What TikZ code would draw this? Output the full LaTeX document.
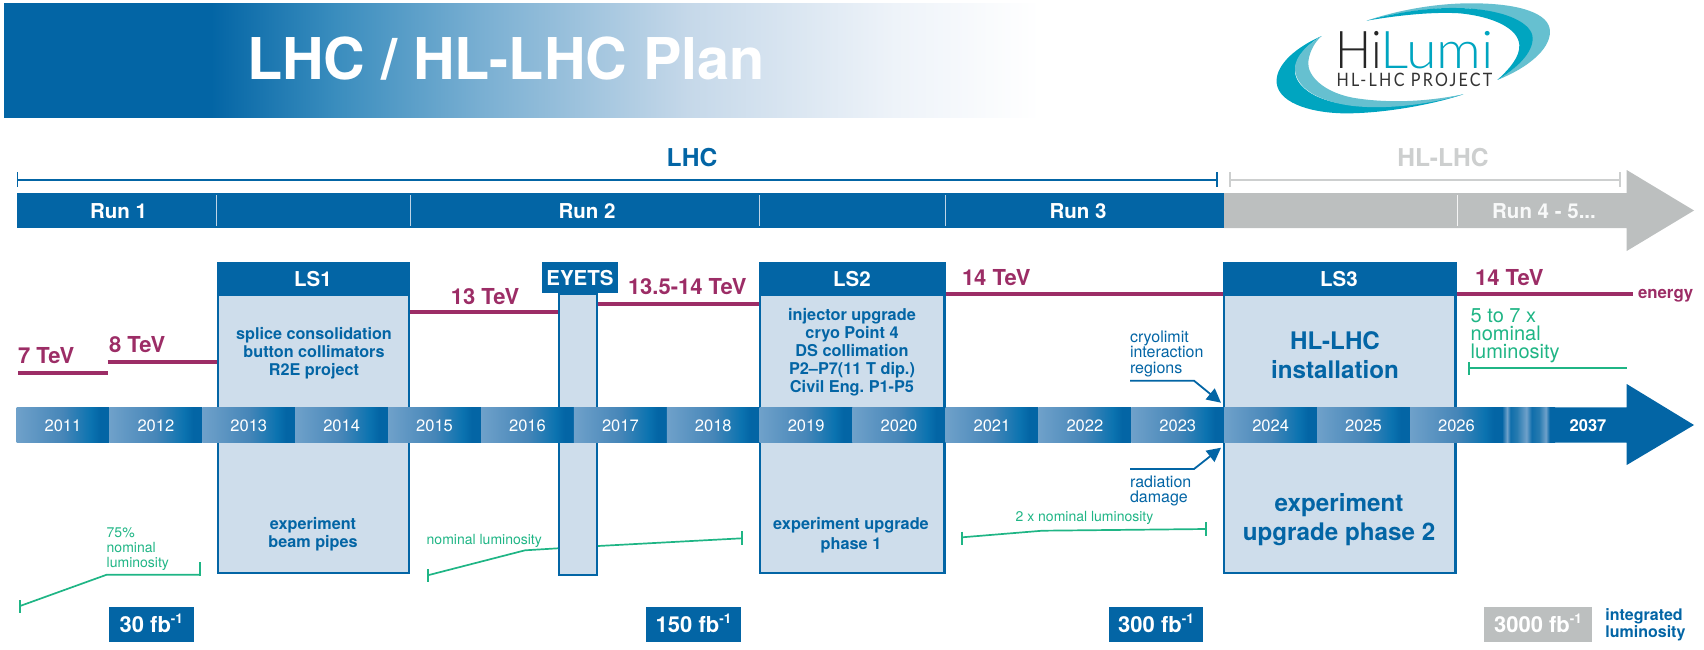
\documentclass[tikz,border=0pt]{standalone}
\usepackage{fontspec}
\usepackage{graphicx}
\setmainfont{TeX Gyre Heros}
\newfontfamily\logofont{Lato Light}
\newfontfamily\logosub[LetterSpace=14]{Lato}
\usetikzlibrary{arrows.meta}
\frenchspacing
\definecolor{lhcblue}{RGB}{3,101,165}
\definecolor{boxfill}{RGB}{206,221,235}
\definecolor{lhcgrey}{RGB}{188,191,191}
\definecolor{bracketgrey}{RGB}{205,207,207}
\definecolor{energy}{RGB}{156,45,102}
\definecolor{lumi}{RGB}{31,181,133}
\definecolor{teal}{RGB}{0,165,192}
\definecolor{teallight}{RGB}{102,192,208}
\definecolor{seplight}{RGB}{190,212,230}
\pgfdeclarehorizontalshading{headshade}{100bp}{
  rgb(0bp)=(0.012,0.396,0.647);
  rgb(25bp)=(0.012,0.396,0.647);
  rgb(35bp)=(0.012,0.396,0.647);
  rgb(41bp)=(0.227,0.553,0.745);
  rgb(48bp)=(0.475,0.686,0.824);
  rgb(58bp)=(0.773,0.847,0.914);
  rgb(68bp)=(0.933,0.953,0.976);
  rgb(75bp)=(1,1,1);
  rgb(100bp)=(1,1,1)}
\pgfdeclarehorizontalshading{yearshade}{100bp}{
  rgb(0bp)=(0.435,0.631,0.792);
  rgb(25bp)=(0.435,0.631,0.792);
  rgb(50bp)=(0.275,0.525,0.722);
  rgb(65bp)=(0.043,0.451,0.690);
  rgb(70bp)=(0.012,0.396,0.647);
  rgb(100bp)=(0.012,0.396,0.647)}
\pgfdeclarehorizontalshading{gapshade}{100bp}{
  rgb(0bp)=(0.012,0.396,0.647);
  rgb(25bp)=(0.012,0.396,0.647);
  rgb(29.8bp)=(0.435,0.631,0.792);
  rgb(33bp)=(0.06,0.43,0.67);
  rgb(39bp)=(0.15,0.48,0.69);
  rgb(48bp)=(0.435,0.631,0.792);
  rgb(53bp)=(0.06,0.43,0.67);
  rgb(60bp)=(0.15,0.48,0.69);
  rgb(66.3bp)=(0.435,0.631,0.792);
  rgb(70bp)=(0.012,0.396,0.647);
  rgb(100bp)=(0.012,0.396,0.647)}
\tikzset{
  txt/.style={inner sep=0pt,outer sep=0pt,anchor=base},
  txtw/.style={txt,anchor=base west,align=left},
  sized/.style 2 args={font=\fontsize{#1}{#2}\selectfont},
  sizedb/.style 2 args={font=\fontsize{#1}{#2}\selectfont\bfseries},
  whitebold/.style={txt,text=white,sizedb={20.5}{24}},
  bluebox/.style={text=lhcblue,txt,align=center,sizedb={16.2}{18}},
  bigbox/.style={text=lhcblue,txt,align=center,sizedb={24.2}{29}},
  tev/.style={txt,text=energy,sizedb={22}{24}},
  enline/.style={draw=energy,line width=4.2pt},
  lumline/.style={draw=lumi,line width=1.7pt},
  lumtxt/.style={txtw,text=lumi,sized={14}{14.7}},
  body/.style={fill=boxfill,draw=lhcblue,line width=2.4pt},
  head/.style={fill=lhcblue},
  year/.style={txt,text=white,sized={16.5}{18}},
  yearseg/.style={shading=yearshade,shading angle=0},
  note/.style={txtw,text=lhcblue,sized={16}{15.5}},
  pointer/.style={draw=lhcblue,line width=1.8pt,-{Triangle[length=14pt,width=14pt]}},
  lumbox/.style={fill=lhcblue},
  lumval/.style={txt,text=white,sizedb={22}{24}},
}
\newcommand{\invfb}[1]{#1 fb\raisebox{.42em}{\fontsize{13.5}{14}\selectfont -1}}
\begin{document}
\begin{tikzpicture}[x=1pt,y=-1pt]
\useasboundingbox (0,0) rectangle (1704,649);
% header
\shade[shading=headshade] (4,3.5) rectangle (1040,117);
\node[txt,text=white,sizedb={57.6}{60},anchor=base west] (title) at (247,79) {LHC / HL-LHC Plan};
% logo
\begin{scope}[shift={(1260,0)},x=.3333pt,y=-.3333pt]
  \fill[teal] (185,108) .. controls (90,150) and (45,205) .. (50,250) .. controls (58,315) and (170,342) .. (270,340) .. controls (390,338) and (530,310) .. (610,283) .. controls (470,315) and (340,325) .. (240,310) .. controls (150,295) and (100,250) .. (105,205) .. controls (108,170) and (145,130) .. (185,108) -- cycle;
  \fill[teallight] (185,108) .. controls (140,135) and (105,170) .. (105,205) .. controls (105,260) and (170,305) .. (280,318) .. controls (390,330) and (520,310) .. (610,283) .. controls (500,305) and (390,310) .. (290,295) .. controls (190,280) and (140,225) .. (145,185) .. controls (148,155) and (165,125) .. (185,108) -- cycle;
  \fill[teallight] (320,62) .. controls (430,25) and (550,8) .. (650,10) .. controls (780,12) and (870,40) .. (870,95) .. controls (870,150) and (800,205) .. (712,240) .. controls (770,205) and (815,160) .. (815,115) .. controls (815,70) and (740,35) .. (620,25) .. controls (530,20) and (420,35) .. (320,62) -- cycle;
  \fill[teal] (320,62) .. controls (430,32) and (530,20) .. (620,25) .. controls (740,32) and (818,70) .. (818,115) .. controls (818,160) and (770,205) .. (712,240) .. controls (750,205) and (780,170) .. (778,135) .. controls (775,85) and (700,50) .. (600,40) .. controls (520,35) and (420,45) .. (320,62) -- cycle;
\end{scope}
\node[txtw,text=black!85] (logohi) at (1335.5,68.3) {\logofont\fontsize{52}{52}\selectfont\scalebox{.92}[1]{Hi}};
\node[txtw,text=teal] (logolumi) at (1380,68.3) {\logofont\fontsize{52}{52}\selectfont\scalebox{1.07}[1]{Lumi}};
\node[txtw,text=black!80] (logosub) at (1336.5,86) {\scalebox{.87}[1]{\logosub\fontsize{18.5}{19}\selectfont HL-LHC PROJECT}};
% brackets
\draw[draw=lhcblue,line width=1.9pt] (17.5,179.7) -- (1217,179.7);
\draw[draw=lhcblue,line width=1.5pt] (17.5,172) -- (17.5,187) (1217,172) -- (1217,187);
\draw[draw=bracketgrey,line width=1.9pt] (1230,179.7) -- (1620,179.7);
\draw[draw=bracketgrey,line width=1.5pt] (1230,172) -- (1230,187) (1620,172) -- (1620,187);
\node[txt,text=lhcblue,sizedb={24.6}{26}] (lhclab) at (692,166.7) {LHC};
\node[txt,text=bracketgrey,sizedb={24.6}{26}] (hllab) at (1443,166.7) {HL-LHC};
% run bar
\fill[lhcgrey] (1224,193) -- (1626.7,193) -- (1626.7,170) -- (1694,210.5) -- (1626.7,251) -- (1626.7,228) -- (1224,228) -- cycle;
\fill[lhcblue] (16.5,193) rectangle (1224,228);
\draw[seplight,line width=1pt] (216.7,195) -- (216.7,226) (410,195) -- (410,226) (759,195) -- (759,226) (945.7,195) -- (945.7,226);
\draw[white!85!lhcgrey,line width=1pt] (1457,195) -- (1457,226);
\node[whitebold] (run1) at (118.5,218) {Run 1};
\node[whitebold] (run2) at (587,218) {Run 2};
\node[whitebold] (run3) at (1078,218) {Run 3};
\node[whitebold,text=white!90!lhcgrey] (run4) at (1544,218) {Run 4 - 5...};
% energy lines
\draw[enline] (18,373.3) -- (107.7,373.3);
\draw[enline] (107.7,362.3) -- (218,362.3);
\draw[enline] (410,312.3) -- (558,312.3);
\draw[enline] (598,303.7) -- (760,303.7);
\draw[enline] (945,294.3) -- (1224,294.3);
\draw[enline] (1456,294.3) -- (1632.7,294.3);
% long-shutdown boxes
\path[body] (218.2,294) rectangle (408.8,573);
\fill[head] (217,262) rectangle (410,295.5);
\path[body] (559.2,294) rectangle (596.8,574.7);
\fill[head] (542,262) rectangle (618,293);
\path[body] (760.2,294) rectangle (944.5,573);
\fill[head] (759,262) rectangle (945.7,295.5);
\path[body] (1224.2,294) rectangle (1455.5,573);
\fill[head] (1223,262) rectangle (1456.7,295.5);
\node[whitebold] (ls1) at (313,286) {LS1};
\node[whitebold] (eyets) at (580,285) {EYETS};
\node[whitebold] (ls2) at (852,286) {LS2};
\node[whitebold] (ls3) at (1339,286) {LS3};
\node[bluebox] (ls1top) at (314,375.7) {splice consolidation\\button collimators\\R2E project};
\node[bluebox] (ls1low) at (313,547.7) {experiment\\beam pipes};
\node[bluebox,sizedb={16.3}{18}] (ls2top) at (852,392) {injector upgrade\\cryo Point 4\\DS collimation\\P2--P7(11 T dip.)\\Civil Eng. P1-P5};
\node[bluebox,sizedb={16.3}{19.7}] (ls2low) at (851,549) {experiment upgrade\\phase 1};
\node[bigbox] (ls3top) at (1335,378.3) {HL-LHC\\installation};
\node[bigbox] (ls3low) at (1339,540) {experiment\\upgrade phase 2};
% timeline
\fill[lhcblue] (1553,407.3) -- (1626.7,407.3) -- (1626.7,384) -- (1694,425) -- (1626.7,465) -- (1626.7,442.7) -- (1553,442.7) -- cycle;
\foreach \yr [count=\i from 0] in {2011,...,2026}{
  \pgfmathsetmacro{\xl}{16.5+92.9*\i}
  \pgfmathsetmacro{\xr}{16.5+92.9*(\i+1)}
  \pgfmathsetmacro{\xc}{16.5+92.9*(\i+.5)}
  \shade[yearseg] (\xl,407.3) rectangle (\xr,442.7);
  \node[year] (y\yr) at (\xc,431.7) {\yr};
}
\shade[shading=gapshade] (1502,407.3) rectangle (1555,442.7);
\node[year,font=\fontsize{16.5}{18}\selectfont\bfseries] (y2037) at (1588,431.7) {2037};
% notes and pointers
\node[note] (cryo) at (1130,373.3) {cryolimit\\interaction\\regions};
\node[note] (rad) at (1130,502.7) {radiation\\damage};
\coordinate (cryotail) at (1130,380.7);
\coordinate (cryobend) at (1194,380.7);
\coordinate (cryotip) at (1221,402.7);
\coordinate (radtail) at (1130,469);
\coordinate (radbend) at (1194,469);
\coordinate (radtip) at (1221,447.7);
\draw[pointer] (cryotail) -- (cryobend) -- (cryotip);
\draw[pointer] (radtail) -- (radbend) -- (radtip);
% energy labels
\node[tev,anchor=base west] (t7) at (18,363) {7 TeV};
\node[tev,anchor=base west] (t8) at (109,352.7) {8 TeV};
\node[tev] (t13) at (485,304) {13 TeV};
\node[tev,anchor=base west] (t135) at (628,294.7) {13.5-14 TeV};
\node[tev,anchor=base west] (t14a) at (962,285) {14 TeV};
\node[tev,anchor=base west] (t14b) at (1475,285) {14 TeV};
\node[txtw,text=energy,sizedb={16.8}{18}] (energy) at (1638,298) {energy};
% luminosity
\draw[lumline] (20,606) -- (106.7,574.7) -- (200,574.7);
\draw[lumline] (20,600) -- (20,613) (200,562) -- (200,575.5);
\node[lumtxt] (l75) at (106.7,567.3) {75\%\\nominal\\luminosity};
\draw[lumline] (427.7,575.3) -- (525,550.3) -- (558,548.3);
\draw[lumline] (598,546) -- (741.7,538.3);
\draw[lumline] (427.7,569.3) -- (427.7,582.3) (741.7,531) -- (741.7,545);
\node[lumtxt] (l100) at (426.7,544) {nominal luminosity};
\draw[lumline] (962,537.3) -- (1042.4,530.7) -- (1206,529);
\draw[lumline] (962,531.7) -- (962,545) (1206,522.3) -- (1206,535.7);
\node[lumtxt] (l2x) at (1015.6,521.7) {2 x nominal luminosity};
\draw[lumline] (1469.3,368.3) -- (1626.7,368.3);
\draw[lumline] (1469.3,362) -- (1469.3,375);
\node[lumtxt,sized={20}{17.7}] (l5x) at (1470.7,358) {5 to 7 x\\nominal\\luminosity};
% integrated luminosity
\fill[lumbox] (108.7,607) rectangle (194,641.7);
\fill[lumbox] (646,607) rectangle (741,641.7);
\fill[lumbox] (1109.3,607) rectangle (1203,641.7);
\fill[lhcgrey] (1484.4,607) rectangle (1592,641.7);
\node[lumval] (f30) at (151.3,632.7) {\invfb{30}};
\node[lumval] (f150) at (693.5,632.7) {\invfb{150}};
\node[lumval] (f300) at (1156,632.7) {\invfb{300}};
\node[lumval] (f3000) at (1538,632.7) {\invfb{3000}};
\node[txtw,text=lhcblue,sizedb={16}{14.5}] (intl) at (1605.4,637) {integrated\\luminosity};
\end{tikzpicture}
\end{document}
